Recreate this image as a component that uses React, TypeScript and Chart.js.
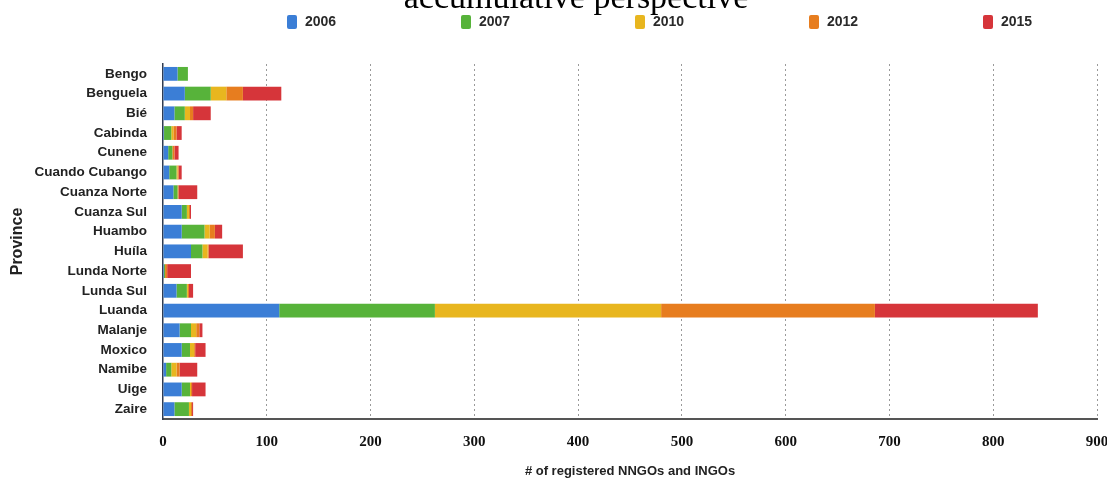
import React, { useEffect, useRef } from 'react';
import { Chart, registerables } from 'chart.js';

Chart.register(...registerables);

const provinces = [
  'Bengo', 'Benguela', 'Bié', 'Cabinda', 'Cunene', 'Cuando Cubango', 'Cuanza Norte',
  'Cuanza Sul', 'Huambo', 'Huíla', 'Lunda Norte', 'Lunda Sul', 'Luanda', 'Malanje',
  'Moxico', 'Namibe', 'Uige', 'Zaire',
];
const years = ['2006', '2007', '2010', '2012', '2015'];
const v2006 = [14, 21, 11, 1, 5, 6, 10, 18, 18, 27, 1, 13, 112, 16, 18, 3, 18, 11];
const v2007 = [10, 25, 10, 7, 4, 7, 4, 5, 22, 11, 1, 10, 150, 11, 8, 5, 8, 14];
const v2010 = [0, 15, 5, 2, 0, 1, 0, 2, 5, 5, 0, 1, 218, 5, 4, 5, 1, 2];
const v2012 = [0, 16, 3, 3, 2, 1, 1, 1, 5, 1, 2, 1, 206, 3, 1, 3, 1, 1];
const v2015 = [0, 37, 17, 5, 4, 3, 18, 1, 7, 33, 23, 4, 157, 3, 10, 17, 13, 1];
const seriesValues = [v2006, v2007, v2010, v2012, v2015];
const seriesColors = ['#3b7ed6', '#57b33a', '#e8b61f', '#e77d1f', '#d6353a'];
const xMax = 900;
const xStep = 100;
const titleText = 'accumulative perspective';
const xTitle = '# of registered NNGOs and INGOs';
const yTitle = 'Province';

const SANS = '"Liberation Sans", Arial, Helvetica, sans-serif';
const SERIF = '"Liberation Serif", "Times New Roman", serif';

const headerPlugin = {
  id: 'header',
  afterDraw(chart: any) {
    const ctx = chart.ctx;
    ctx.save();
    ctx.fillStyle = '#000';
    ctx.font = '34px ' + SERIF;
    ctx.textAlign = 'center';
    ctx.textBaseline = 'alphabetic';
    ctx.fillText(titleText, 576, 8);

    const start = 287;
    const pitch = 174;
    chart.data.datasets.forEach((d: any, i: number) => {
      const x = start + pitch * i;
      ctx.fillStyle = d.backgroundColor;
      ctx.beginPath();
      if (ctx.roundRect) ctx.roundRect(x, 15, 10, 14, 2);
      else ctx.rect(x, 15, 10, 14);
      ctx.fill();
      ctx.fillStyle = '#2a2a2a';
      ctx.font = 'bold 14px ' + SANS;
      ctx.textAlign = 'left';
      ctx.textBaseline = 'middle';
      ctx.fillText(d.label, x + 18, 22);
    });
    ctx.restore();
  },
};

export default function App() {
  const canvasRef = useRef<HTMLCanvasElement | null>(null);

  useEffect(() => {
    if (!canvasRef.current) return;
    const chart = new Chart(canvasRef.current, {
      type: 'bar',
      data: {
        labels: provinces,
        datasets: years.map((y, i) => ({
          label: y,
          data: seriesValues[i],
          backgroundColor: seriesColors[i],
          borderWidth: 0,
          categoryPercentage: 0.7,
          barPercentage: 1,
        })),
      },
      options: {
        indexAxis: 'y',
        responsive: false,
        animation: false,
        devicePixelRatio: 1,
        layout: { padding: { top: 64, right: 0, left: 0, bottom: 0 } },
        plugins: {
          legend: { display: false },
          title: { display: false },
          tooltip: { enabled: false },
        },
        scales: {
          x: {
            stacked: true,
            min: 0,
            max: xMax,
            ticks: {
              stepSize: xStep,
              color: '#111',
              font: { family: SERIF, weight: 'bold', size: 15 },
              padding: 14,
            },
            grid: {
              color: (c: any) => (c.tick && c.tick.value === 0 ? 'rgba(0,0,0,0)' : '#9a9a9a'),
              drawTicks: false,
              lineWidth: 1,
            },
            border: { color: '#555', width: 2, dash: [2, 3] },
            title: {
              display: true,
              text: xTitle,
              color: '#222',
              font: { family: SANS, weight: 'bold', size: 13 },
              padding: { top: 4, bottom: 0 },
            },
            afterFit: (s: any) => {
              s.height = 60;
              s.paddingRight = 10;
            },
          },
          y: {
            stacked: true,
            ticks: {
              color: '#222',
              font: { family: SANS, weight: 'bold', size: 13.5 },
              padding: 16,
              autoSkip: false,
            },
            grid: { drawOnChartArea: false, drawTicks: false },
            border: { color: '#2f3c52', width: 1.5 },
            title: {
              display: true,
              text: yTitle,
              color: '#222',
              font: { family: SANS, weight: 'bold', size: 16 },
              padding: { top: 8, bottom: 0 },
            },
            afterFit: (s: any) => {
              s.width = 163;
            },
          },
        },
      } as any,
      plugins: [headerPlugin],
    });
    return () => chart.destroy();
  }, []);

  return (
    <div style={{ position: 'fixed', left: 0, top: 0, width: 1107, height: 479, background: '#fff' }}>
      <canvas ref={canvasRef} width={1107} height={479} style={{ display: 'block' }} />
    </div>
  );
}
